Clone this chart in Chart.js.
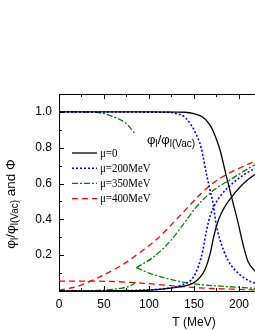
<!DOCTYPE html>
<html>
<head>
<meta charset="utf-8">
<script src="https://cdn.jsdelivr.net/npm/chart.js@4/dist/chart.umd.min.js"></script>
<style>
  html, body { margin: 0; padding: 0; background: #fff; overflow: hidden; }
  #wrap { width: 345px; height: 330px; }
</style>
</head>
<body>
<div id="wrap"><canvas id="myChart" width="345" height="330"></canvas></div>
<script>
// T in MeV
// mu = 0
var T_mu0_phi = [0, 100, 140, 150, 160, 168, 174, 179, 186, 190, 194, 199, 205, 210, 218, 225];
var phi_mu0 = [1.0, 1.0, 0.998, 0.99, 0.97, 0.925, 0.86, 0.786, 0.64, 0.56, 0.48, 0.38, 0.25, 0.165, 0.11, 0.08];
var T_mu0_Phi = [0, 50, 100, 130, 151, 162, 168, 172, 176, 180, 186, 195, 205, 216, 225];
var Phi_mu0 = [0, 0.001, 0.005, 0.02, 0.05, 0.117, 0.21, 0.305, 0.38, 0.43, 0.485, 0.545, 0.6, 0.645, 0.67];

// mu = 200 MeV
var T_mu200_phi = [0, 120, 131, 140, 147, 152, 158, 164, 168, 171.5, 174, 179, 188, 199, 210, 218, 225];
var phi_mu200 = [1.0, 0.998, 0.99, 0.97, 0.925, 0.88, 0.8, 0.65, 0.56, 0.48, 0.39, 0.284, 0.17, 0.1, 0.06, 0.043, 0.035];
var T_mu200_Phi = [0, 50, 100, 120, 134, 149, 155, 160, 164, 168, 173, 180, 195, 216, 225];
var Phi_mu200 = [0, 0.001, 0.006, 0.015, 0.03, 0.075, 0.14, 0.23, 0.34, 0.42, 0.48, 0.535, 0.61, 0.68, 0.695];

// mu = 350 MeV (first order jump near T = 85)
var T_mu350_phiA = [0, 40, 50, 62, 75, 84.5];
var phi_mu350A = [1.0, 0.998, 0.99, 0.97, 0.934, 0.878];
var T_mu350_phiB = [86, 100, 120, 138, 153, 180, 218, 225];
var phi_mu350B = [0.13, 0.1, 0.07, 0.05, 0.038, 0.027, 0.015, 0.013];
var T_mu350_PhiA = [0, 30, 49, 68, 80, 86];
var Phi_mu350A = [0, 0.001, 0.005, 0.015, 0.03, 0.05];
var T_mu350_PhiB = [86, 105, 123, 140, 151, 160, 175, 188, 218, 225];
var Phi_mu350B = [0.13, 0.19, 0.275, 0.385, 0.46, 0.51, 0.575, 0.615, 0.705, 0.72];

// mu = 400 MeV
var T_mu400_phi = [0, 30, 60, 80, 94, 118, 138, 149, 170, 194, 218, 225];
var phi_mu400 = [0.055, 0.055, 0.053, 0.048, 0.043, 0.033, 0.024, 0.02, 0.014, 0.01, 0.006, 0.005];
var T_mu400_Phi = [0, 20, 35, 50, 70, 90, 110, 120, 140, 155, 170, 186, 200, 216, 225];
var Phi_mu400 = [0.005, 0.025, 0.055, 0.09, 0.145, 0.215, 0.295, 0.345, 0.45, 0.53, 0.598, 0.65, 0.685, 0.72, 0.735];

var legendLabels = ["\u03bc=0", "\u03bc=200MeV", "\u03bc=350MeV", "\u03bc=400MeV"];

// line styles, one per mu
var styles = [
  { color: "#000000", dash: [], width: 1.3 },
  { color: "#0000ff", dash: [2, 2], width: 1.6 },
  { color: "#008000", dash: [6, 2, 2, 2], width: 1.3 },
  { color: "#ff0000", dash: [6, 4], width: 1.3 },
];

function pts(xs, ys) {
  return xs.map(function (t, i) {
    return { x: t, y: ys[i] };
  });
}

function line(xs, ys, s) {
  return {
    data: pts(xs, ys),
    borderColor: s.color,
    borderDash: s.dash,
    borderWidth: s.width,
    pointRadius: 0,
    fill: false,
    cubicInterpolationMode: "monotone",
  };
}

// draw text with subscript pieces: parts = [[text, isSub], ...]
function richWidth(ctx, parts, big, small) {
  var w = 0;
  parts.forEach(function (p) {
    ctx.font = (p[1] ? small : big) + "px 'Liberation Sans', Arial, sans-serif";
    w += ctx.measureText(p[0]).width;
  });
  return w;
}
function drawRich(ctx, parts, x, y, big, small) {
  parts.forEach(function (p) {
    ctx.font = (p[1] ? small : big) + "px 'Liberation Sans', Arial, sans-serif";
    ctx.fillText(p[0], x, p[1] ? y + 3 : y);
    x += ctx.measureText(p[0]).width;
  });
}

var frame = {
  id: "frame",
  afterDraw: function (chart) {
    var ctx = chart.ctx;
    var a = chart.chartArea;
    var xs = chart.scales.x;
    var ys = chart.scales.y;
    ctx.save();
    ctx.strokeStyle = "#000";
    ctx.lineWidth = 1;
    ctx.setLineDash([]);
    ctx.beginPath();
    ctx.moveTo(a.left, a.top + 0.5);
    ctx.lineTo(a.right, a.top + 0.5);
    // inward ticks
    for (var t = 0; t <= 300; t += 25) {
      var px = Math.round(xs.getPixelForValue(t)) + 0.5;
      var len = t % 50 === 0 ? 5 : 3;
      ctx.moveTo(px, a.bottom);
      ctx.lineTo(px, a.bottom - len);
      ctx.moveTo(px, a.top);
      ctx.lineTo(px, a.top + len);
    }
    for (var k = 1; k <= 11; k++) {
      var py = Math.round(ys.getPixelForValue(k / 10)) + 0.5;
      var l2 = k % 2 === 0 ? 5 : 3;
      ctx.moveTo(a.left, py);
      ctx.lineTo(a.left + l2, py);
    }
    ctx.stroke();

    // legend
    for (var i = 0; i < legendLabels.length; i++) {
      var yy = a.top + 59 + i * 15.2;
      var s = styles[i];
      ctx.strokeStyle = s.color;
      ctx.lineWidth = s.width;
      ctx.setLineDash(s.dash);
      ctx.beginPath();
      ctx.moveTo(a.left + 13, yy);
      ctx.lineTo(a.left + 38, yy);
      ctx.stroke();
      ctx.fillStyle = "#000";
      ctx.font = "12.5px 'Liberation Serif', 'Times New Roman', serif";
      ctx.textBaseline = "middle";
      ctx.save();
      ctx.translate(a.left + 41, yy + 0.5);
      ctx.scale(0.87, 1);
      ctx.fillText(legendLabels[i], 0, 0);
      ctx.restore();
    }

    // label inside the plot
    ctx.textBaseline = "alphabetic";
    ctx.fillStyle = "#000";
    drawRich(ctx, [["\u03c6", 0], ["l", 1], ["/\u03c6", 0], ["l(Vac)", 1]], a.left + 88, a.top + 50, 13, 10);

    // y axis title
    var yparts = [["\u03c6", 0], ["l", 1], ["/\u03c6", 0], ["l(Vac)", 1], [" and \u03a6", 0]];
    var w = richWidth(ctx, yparts, 13.5, 10);
    ctx.translate(15, 204);
    ctx.rotate(-Math.PI / 2);
    drawRich(ctx, yparts, -w / 2, 0, 13.5, 10);
    ctx.restore();
  },
};

Chart.defaults.font.family = "'Liberation Sans', Arial, sans-serif";
Chart.defaults.font.size = 12;
Chart.defaults.color = "#000";

var ctx = document.getElementById("myChart").getContext("2d");
var myChart = new Chart(ctx, {
  type: "line",
  data: {
    datasets: [
      line(T_mu0_phi, phi_mu0, styles[0]),
      line(T_mu0_Phi, Phi_mu0, styles[0]),
      line(T_mu200_phi, phi_mu200, styles[1]),
      line(T_mu200_Phi, Phi_mu200, styles[1]),
      line(T_mu350_phiA, phi_mu350A, styles[2]),
      line(T_mu350_phiB, phi_mu350B, styles[2]),
      line(T_mu350_PhiA, Phi_mu350A, styles[2]),
      line(T_mu350_PhiB, Phi_mu350B, styles[2]),
      line(T_mu400_phi, phi_mu400, styles[3]),
      line(T_mu400_Phi, Phi_mu400, styles[3]),
    ],
  },
  options: {
    responsive: false,
    animation: false,
    layout: { padding: { left: 0, top: 94, right: 16, bottom: 0 } },
    plugins: {
      legend: { display: false },
      tooltip: { enabled: false },
    },
    scales: {
      x: {
        type: "linear",
        min: 0,
        max: 300,
        grid: { display: false, drawTicks: false },
        border: { display: true, color: "#000", width: 1 },
        ticks: { stepSize: 50, padding: 6, maxRotation: 0 },
        title: { display: true, text: "T (MeV)", font: { size: 12 }, padding: { top: 5, bottom: 0 } },
        afterFit: function (s) {
          s.height = 39;
        },
      },
      y: {
        min: 0,
        max: 1.1,
        grid: { display: false, drawTicks: false },
        border: { display: true, color: "#000", width: 1 },
        ticks: {
          stepSize: 0.2,
          includeBounds: false,
          padding: 7,
          callback: function (v) {
            return Math.abs(v) < 1e-9 ? "" : v.toFixed(1);
          },
        },
        afterFit: function (s) {
          s.width = 59;
        },
      },
    },
  },
  plugins: [frame],
});
</script>
</body>
</html>
